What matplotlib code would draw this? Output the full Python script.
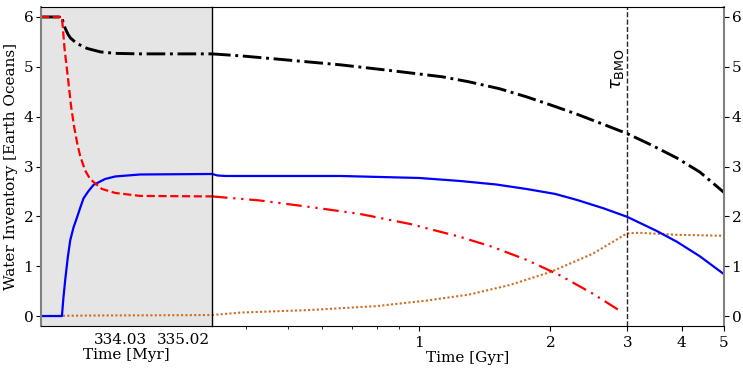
import matplotlib.pyplot as plt
from matplotlib.ticker import FixedLocator, FixedFormatter, NullFormatter

plt.rcParams['font.family'] = 'DejaVu Serif'
plt.rcParams['mathtext.fontset'] = 'dejavusans'
plt.rcParams['font.size'] = 11

# --- early phase (Myr) ---
t_early_total = [332.79, 333.118, 333.145, 333.21, 333.25, 333.35, 333.51, 333.72, 333.95, 334.34, 335.47]
w_early_total = [6.0, 6.0, 5.84, 5.66, 5.58, 5.47, 5.37, 5.30, 5.27, 5.26, 5.26]

t_early_melt = [332.79, 333.118, 333.16, 333.211, 333.26, 333.31, 333.36, 333.404, 333.482, 333.55,
                333.612, 333.744, 333.952, 334.343, 335.47]
w_early_melt = [6.0, 6.0, 5.35, 4.79, 4.22, 3.79, 3.45, 3.21, 2.92, 2.77, 2.69, 2.55, 2.47, 2.41, 2.40]

t_early_atm = [332.79, 333.118, 333.14, 333.169, 333.21, 333.248, 333.30, 333.352, 333.404, 333.456,
               333.53, 333.612, 333.795, 333.952, 334.343, 335.47]
w_early_atm = [0.0, 0.0, 0.35, 0.72, 1.18, 1.52, 1.78, 1.97, 2.17, 2.36, 2.50, 2.63, 2.75, 2.80, 2.84, 2.85]

t_early_solid = [332.79, 333.5, 334.5, 335.47]
w_early_solid = [0.0, 0.01, 0.015, 0.02]

# --- late phase (Gyr) ---
t_late_total = [0.335, 0.39, 0.48, 0.66, 0.87, 1.13, 1.30, 1.53, 1.76, 2.01, 2.30, 2.62, 3.0, 3.41,
                3.9, 4.4, 5.0]
w_late_total = [5.26, 5.22, 5.15, 5.04, 4.92, 4.80, 4.70, 4.56, 4.40, 4.23, 4.05, 3.86, 3.66, 3.43,
                3.17, 2.89, 2.48]

t_late_atm = [0.335, 0.345, 0.36, 0.45, 0.66, 1.0, 1.24, 1.5, 1.76, 2.05, 2.30, 2.65, 3.0, 3.5, 3.9,
              4.4, 5.0]
w_late_atm = [2.85, 2.82, 2.81, 2.81, 2.81, 2.77, 2.71, 2.64, 2.55, 2.45, 2.33, 2.16, 1.99, 1.71, 1.49,
              1.20, 0.84]

t_late_melt = [0.335, 0.43, 0.56, 0.73, 0.95, 1.24, 1.47, 1.76, 2.10, 2.50, 2.93]
w_late_melt = [2.40, 2.32, 2.19, 2.05, 1.85, 1.59, 1.39, 1.13, 0.82, 0.45, 0.07]

t_late_solid = [0.335, 0.39, 0.56, 0.80, 1.04, 1.30, 1.61, 2.01, 2.50, 3.0, 3.2, 3.9, 5.0]
w_late_solid = [0.02, 0.07, 0.12, 0.20, 0.31, 0.43, 0.62, 0.89, 1.25, 1.66, 1.67, 1.63, 1.61]

tau_bmo = 3.0
early_ticks = [334.03, 335.02]
late_ticks = [1, 2, 3, 4, 5]
y_ticks = [0, 1, 2, 3, 4, 5, 6]

orange = '#d2691e'
fig = plt.figure(figsize=(7.43, 3.69), dpi=100)
ax1 = fig.add_axes([0.0552, 0.1165, 0.2301, 0.8645])
ax2 = fig.add_axes([0.2853, 0.1165, 0.6891, 0.8645], sharey=ax1)

# left panel
ax1.set_facecolor('#e5e5e5')
ax1.plot(t_early_solid, w_early_solid, color=orange, lw=1.5, ls=(0, (1, 1.1)))
ax1.plot(t_early_atm, w_early_atm, color='blue', lw=1.6)
ax1.plot(t_early_total, w_early_total, color='black', lw=2.1, ls='-.')
ax1.plot(t_early_melt, w_early_melt, color='red', lw=1.6, ls='--')
ax1.set_xlim(332.79, 335.47)
ax1.set_ylim(-0.2, 6.2)
ax1.set_xticks(early_ticks)
ax1.set_xticklabels([f'{v:.2f}' for v in early_ticks])
ax1.tick_params(axis='x', length=0, pad=5)
ax1.set_yticks(y_ticks)
ax1.set_xlabel('Time [Myr]', labelpad=1)
ax1.set_ylabel('Water Inventory [Earth Oceans]')
ax1.spines['left'].set_color('#808080')
ax1.spines['left'].set_linewidth(1.5)
ax1.spines['right'].set_visible(False)

# right panel
ax2.patch.set_alpha(0)
ax2.plot(t_late_solid, w_late_solid, color=orange, lw=1.5, ls=(0, (1, 1.1)))
ax2.plot(t_late_atm, w_late_atm, color='blue', lw=1.6)
ax2.plot(t_late_total, w_late_total, color='black', lw=2.1, ls='-.')
ax2.plot(t_late_melt, w_late_melt, color='red', lw=1.6, ls=(0, (7, 2.6, 1, 2.6, 1, 2.6)))
ax2.axvline(tau_bmo, color='black', lw=1, ls='--', alpha=0.85)
ax2.text(tau_bmo - 0.02, 4.95, r'$\tau_{\rm BMO}$', rotation=90, ha='right', va='center',
         fontsize=13)
ax2.set_xscale('log')
ax2.set_xlim(0.335, 5.0)
ax2.xaxis.set_major_locator(FixedLocator(late_ticks))
ax2.xaxis.set_major_formatter(FixedFormatter([str(v) for v in late_ticks]))
ax2.xaxis.set_minor_formatter(NullFormatter())
ax2.tick_params(axis='x', which='minor', length=2)
ax2.set_xlabel('Time [Gyr]', labelpad=1)
ax2.spines['left'].set_color('black')
ax2.spines['left'].set_linewidth(1.0)
ax2.spines['right'].set_color('#808080')
ax2.spines['right'].set_linewidth(1.5)
ax2.yaxis.tick_right()
ax2.tick_params(axis='y', labelright=True, labelleft=False, pad=2)
ax1.tick_params(axis='y', pad=2)

fig.savefig('out.png', dpi=100)
